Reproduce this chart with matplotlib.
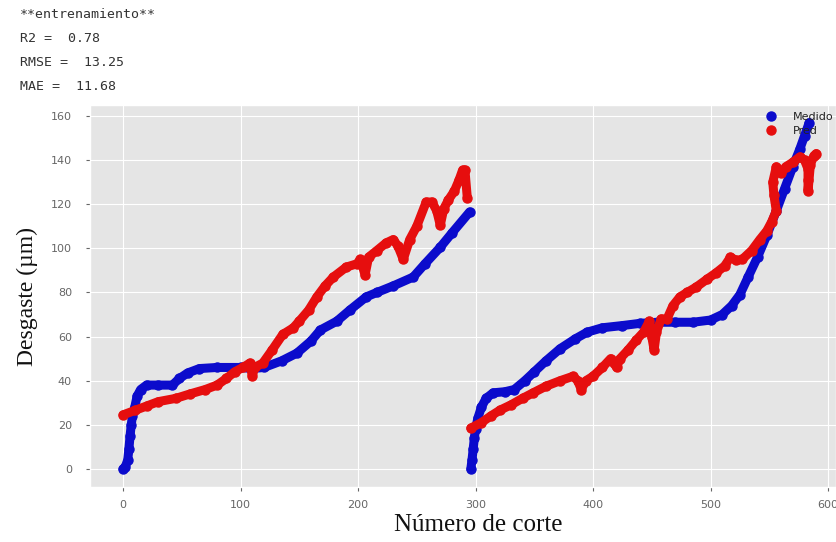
import numpy as np
import matplotlib
matplotlib.use("Agg")
import matplotlib.pyplot as plt

# Medido (measured wear), two tool runs
medido_x = [0, 2, 4, 5, 6, 7, 8, 10, 12, 15, 20, 30, 42, 48, 55, 65, 80, 100, 110, 120,
            135, 148, 160, 168, 182, 193, 207, 216, 230, 247, 257, 270, 280, 295,
            296, 297, 298, 299, 300, 302, 305, 309, 315, 325, 333, 342, 350, 360, 372, 385,
            395, 408, 425, 440, 455, 470, 485, 500, 510, 518, 525, 532, 540, 548, 556, 563,
            570, 576, 580, 584]
medido_y = [0, 1, 4, 9, 15, 20, 24, 28, 33, 36, 38, 38, 38, 41, 43.5, 45.5, 46, 46, 45.5, 46,
            49, 52.5, 58, 63, 67, 72, 78, 80, 83, 87, 93, 100.5, 107, 116.5,
            0, 4, 9, 14, 18, 23, 28, 32, 34.5, 35, 36, 40, 44, 49, 54.5, 59,
            62, 64, 65, 66, 66.5, 66.5, 66.5, 67.5, 70, 74, 79, 87, 96, 106, 117, 127,
            137, 145, 151, 157]

# Pred (predicted wear)
pred_x = [0, 10, 20, 30, 45, 57, 70, 80, 88, 95, 102, 108, 110, 112, 119, 127, 136, 145,
          150, 158, 165, 172, 179, 190, 199, 202, 206, 209, 216, 224, 230, 234, 238.5, 244,
          250, 258, 263, 267, 270, 273, 277, 282, 286, 289, 291, 293,
          296, 305, 313, 321, 330, 340, 349, 360, 372, 383, 387, 390, 394, 400, 408, 415,
          418, 420, 423, 430, 437, 443, 448, 450, 452, 454, 458, 463, 468, 474, 480, 488,
          497, 505, 512, 517, 522, 527, 535, 542, 548, 552, 556, 554, 553, 556, 560, 564,
          570, 576, 580, 583, 583, 583, 585, 588, 590]
pred_y = [24.5, 26.5, 28.5, 30.5, 32, 34, 36, 38, 41, 44, 46, 48, 42, 46, 48, 54, 61, 64,
          67, 72, 78, 83, 87, 91.5, 93, 95, 88, 96, 99, 102.5, 104, 101, 95, 104,
          110, 121, 121, 117, 110.5, 118, 122, 126, 131, 135.5, 135.5, 123,
          18.5, 21, 24, 26.7, 29, 32, 34.5, 37.5, 40, 42, 40, 36, 40, 42, 46, 50,
          48, 46, 50, 54, 58.5, 62, 67, 60, 54, 62, 68, 68, 74, 78, 80, 82.5,
          86, 89, 92, 96, 94.5, 95, 99, 104, 108, 112, 117, 124, 130, 137, 134, 137,
          139, 141.5, 140, 136, 131, 126, 138, 142, 143]

metric_lines = ["**entrenamiento**", "R2 =  0.78", "RMSE =  13.25", "MAE =  11.68"]

plt.style.use("ggplot")
fig = plt.figure(figsize=(8.36, 5.42), dpi=100)
ax = fig.add_axes([90 / 836, 55 / 542, 746 / 836, 382 / 542])


def draw_series(xs, ys, color, label):
    xs = np.array(xs, dtype=float)
    ys = np.array(ys, dtype=float)
    # split the two runs
    first = xs < 295.5
    for i, m in enumerate([first, ~first]):
        ax.plot(xs[m], ys[m], "o-", color=color, ms=6.5, lw=6.5,
                solid_capstyle="round", solid_joinstyle="round",
                label=label if i == 0 else None, zorder=3)


draw_series(medido_x, medido_y, "#0b0bcc", "Medido")
draw_series(pred_x, pred_y, "#e60e0e", "Pred")

ax.set_xlim(-28.1, 606.8)
ax.set_ylim(-8.2, 165)
ax.set_xticks(np.arange(0, 601, 100))
ax.set_yticks(np.arange(0, 161, 20))
ax.tick_params(labelsize=8, colors="#666666", length=3)
ax.tick_params(axis="y", pad=10)
ax.tick_params(axis="x", pad=6)
ax.grid(True, color="white", lw=0.8)
ax.set_facecolor("#e5e5e5")

ax.set_xlabel("Número de corte", family="Liberation Serif", fontsize=18,
              color="#111111")
ax.xaxis.set_label_coords((478 - 90) / 746, -0.07)
ax.set_ylabel("Desgaste (µm)", family="Liberation Serif", fontsize=17,
              color="#111111")
ax.yaxis.set_label_coords(-0.07, 0.5)

leg = ax.legend(loc="upper left", bbox_to_anchor=(0.9, 1.0), frameon=False,
                fontsize=8, handlelength=0.6, handletextpad=1.6,
                labelspacing=0.35, borderaxespad=0.2)
for h in leg.legend_handles:
    h.set_linestyle("")
for t in leg.get_texts():
    t.set_color("#222222")

for i, line in enumerate(metric_lines):
    fig.text(20 / 836, 1 - (15 + 23.8 * i) / 542, line, family="DejaVu Sans Mono",
             fontsize=9.5, color="#333333", va="center", ha="left")

fig.savefig("out.png", dpi=100)
